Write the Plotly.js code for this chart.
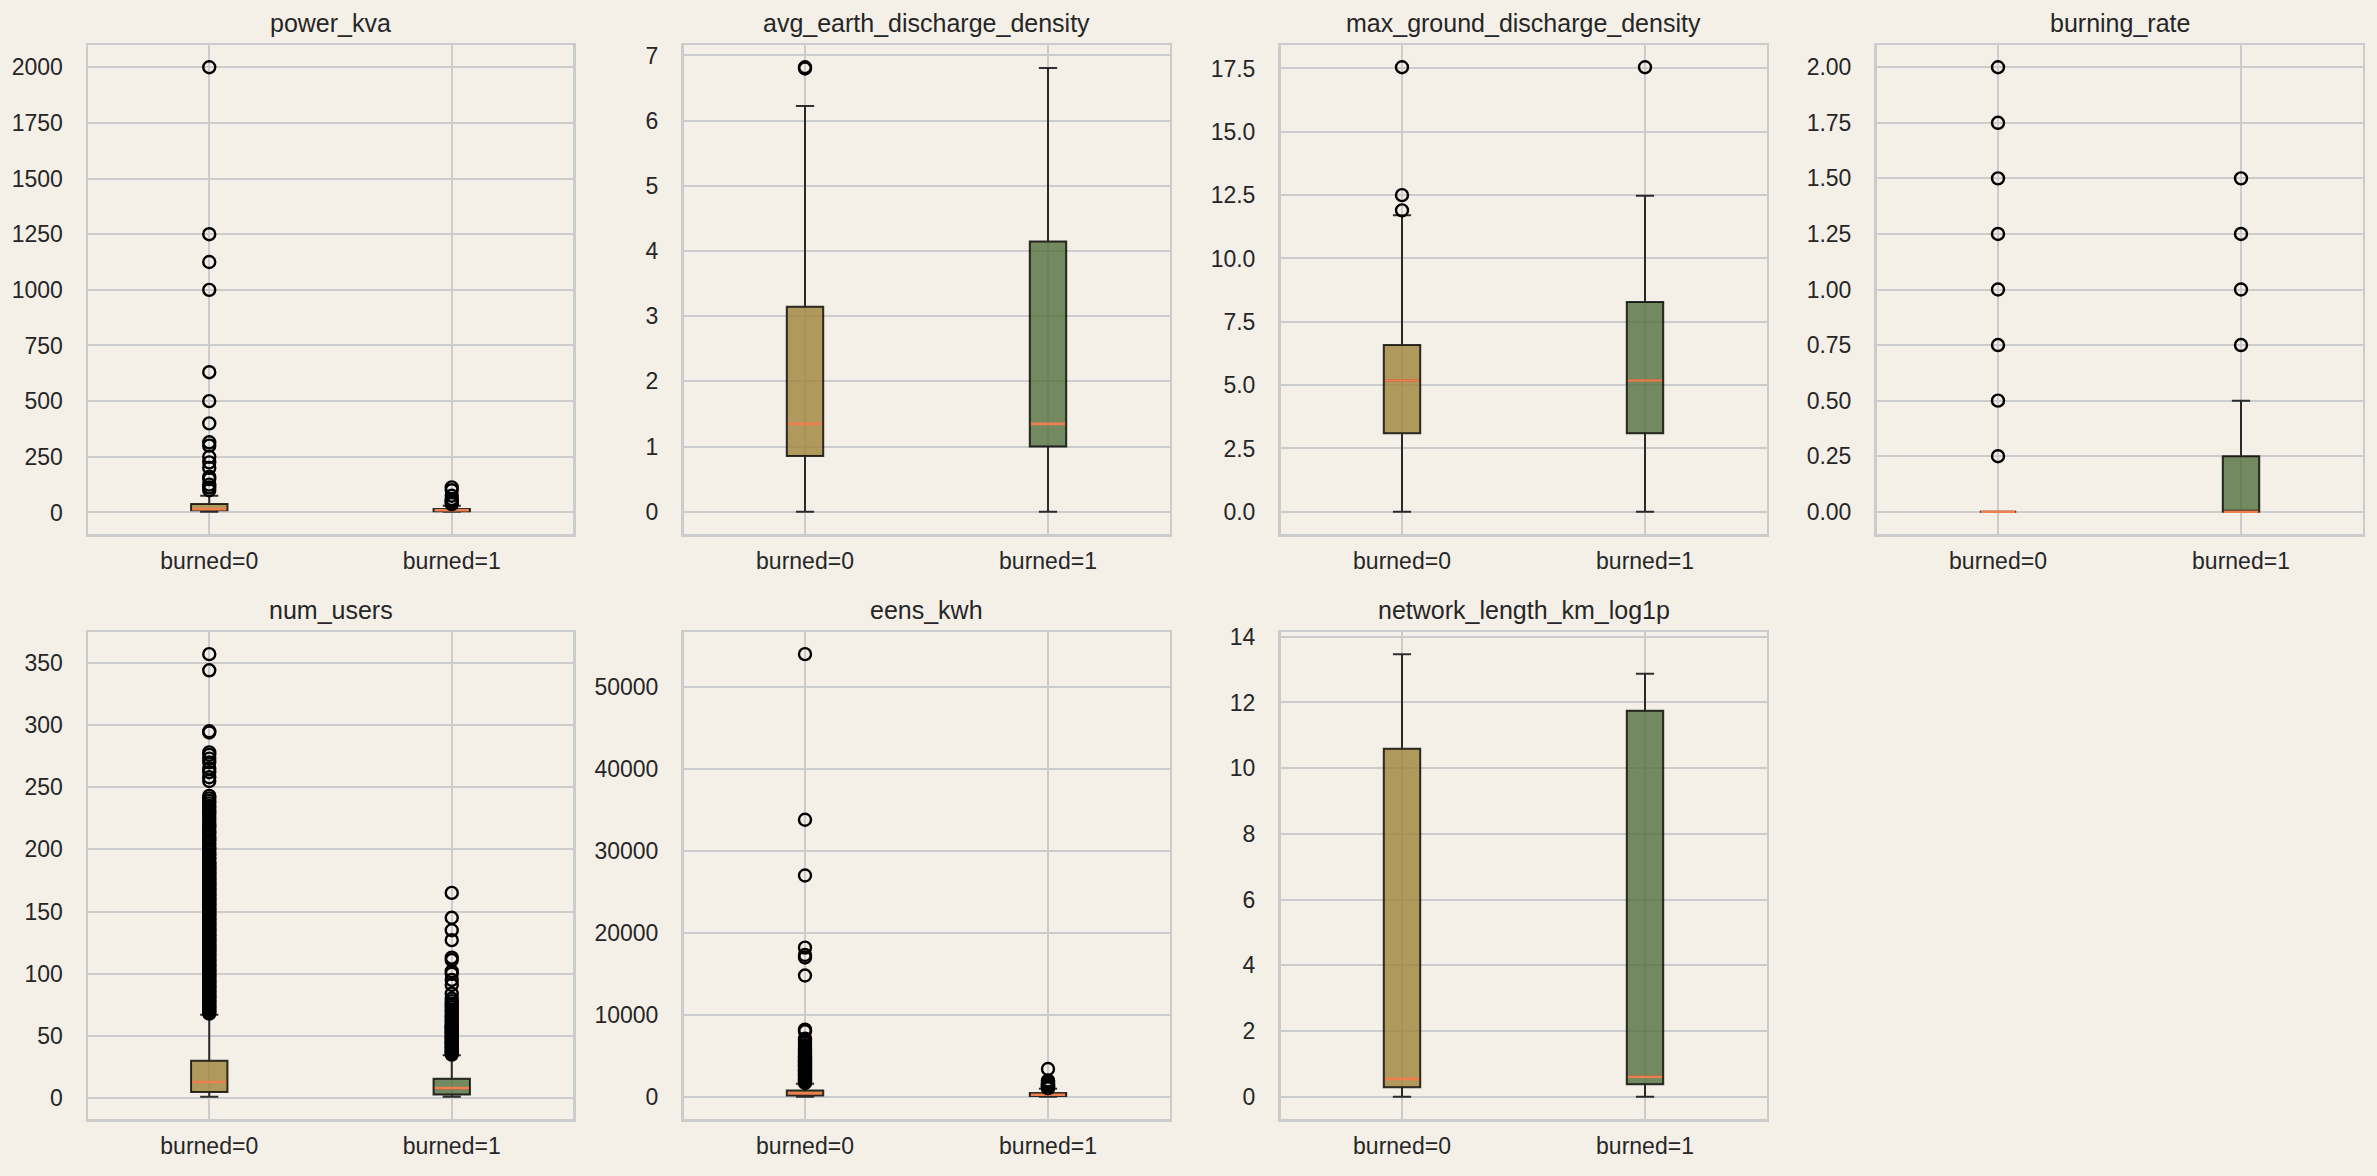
<!DOCTYPE html>
<html>
<head>
<meta charset="utf-8">
<script src="https://cdn.plot.ly/plotly-3.0.1.min.js"></script>
<style>
html,body{margin:0;padding:0;background:#f4f0e8;}
#chart{width:2377px;height:1176px;}
</style>
</head>
<body>
<div id="chart"></div>
<script>
// ---------------- DATA ----------------
const groups = ['burned=0', 'burned=1'];
const metrics = ['power_kva', 'avg_earth_discharge_density', 'max_ground_discharge_density',
                 'burning_rate', 'num_users', 'eens_kwh', 'network_length_km_log1p'];

// box statistics (one value per metric), burned=0
const lowerFence0 = [3, 0, 0, 0, 1, 0, 0];
const q1_0        = [10, 0.856, 3.098, 0, 5, 180, 0.296];
const median0     = [15, 1.348, 5.184, 0, 13, 420, 0.546];
const q3_0        = [37.5, 3.147, 6.584, 0, 30, 770, 10.59];
const upperFence0 = [75, 6.225, 11.71, 0, 67, 1600, 13.47];

// box statistics (one value per metric), burned=1
const lowerFence1 = [3, 0, 0, 0, 1, 0, 0];
const q1_1        = [5, 1.001, 3.098, 0, 3, 100, 0.387];
const median1     = [10, 1.348, 5.184, 0, 8, 250, 0.614];
const q3_1        = [15, 4.148, 8.28, 0.25, 15.6, 470, 11.75];
const upperFence1 = [30, 6.81, 12.48, 0.5, 34.5, 1000, 12.87];

// outliers (fliers)
const powerKvaOut0 = [100, 112.5, 125, 150, 160, 200, 225, 250, 300, 315, 400, 500, 630, 1000, 1125, 1250, 2000];
const powerKvaOut1 = [37.5, 45, 50, 60, 75, 100, 112.5];
const avgEarthOut0 = [6.8, 6.82];
const avgEarthOut1 = [];
const maxGroundOut0 = [11.9, 12.5, 17.55];
const maxGroundOut1 = [17.55];
const burningRateOut0 = [0.25, 0.5, 0.75, 1.0, 1.25, 1.5, 1.75, 2.0];
const burningRateOut1 = [0.75, 1.0, 1.25, 1.5];
const numUsersOut0 = [68, 69, 70, 71, 72, 73, 74, 75, 76, 77, 78, 79, 80, 81, 82, 83, 84, 85, 86, 87, 88, 89,
  90, 91, 92, 93, 94, 95, 96, 97, 98, 99, 100, 101, 102, 103, 104, 105, 106, 107, 108, 109, 110, 111, 112,
  113, 114, 115, 116, 117, 118, 119, 120, 121, 122, 123, 124, 125, 126, 127, 128, 129, 130, 131, 132, 133,
  134, 135, 136, 137, 138, 139, 140, 141, 142, 143, 144, 145, 146, 147, 148, 149, 150, 151, 152, 153, 154,
  155, 156, 157, 158, 159, 160, 161, 162, 163, 164, 165, 166, 167, 168, 169, 170, 171, 172, 173, 174, 175,
  176, 177, 178, 179, 180, 181, 182, 183, 184, 185, 186, 187, 188, 189, 190, 192, 193, 195, 196, 198, 200,
  201, 203, 205, 207, 208, 210, 212, 214, 215, 217, 219, 220, 222, 224, 226, 228, 230, 231, 233, 235, 237,
  239, 241, 243, 255, 258, 262, 265, 270, 273, 276, 278, 294, 295, 344, 357];
const numUsersOut1 = [35, 36, 37, 38, 39, 40, 41, 42, 43, 44, 45, 46, 47, 48, 49, 50, 51, 52, 53, 54, 55, 56,
  57, 58, 59, 60, 62, 63, 65, 66, 68, 70, 71, 73, 75, 76, 78, 80, 84, 91, 95, 100, 102, 111, 113, 127, 135,
  145, 165];
const eensOut0 = [1700, 1800, 1900, 2000, 2100, 2200, 2300, 2400, 2500, 2600, 2700, 2800, 2900, 3000, 3100,
  3200, 3300, 3400, 3500, 3600, 3700, 3800, 3900, 4000, 4100, 4200, 4300, 4400, 4500, 4600, 4700, 4800, 4900,
  5000, 5150, 5300, 5450, 5600, 5750, 5900, 6100, 6300, 6600, 6900, 7100, 8000, 8200, 14800, 17000, 17300,
  18200, 27000, 33800, 54000];
const eensOut1 = [1050, 1100, 1150, 1200, 1250, 1300, 1350, 1400, 1450, 1500, 1550, 1600, 1700, 1800, 1900,
  2000, 3400];
const networkOut0 = [];
const networkOut1 = [];

const outliers0 = [powerKvaOut0, avgEarthOut0, maxGroundOut0, burningRateOut0, numUsersOut0, eensOut0, networkOut0];
const outliers1 = [powerKvaOut1, avgEarthOut1, maxGroundOut1, burningRateOut1, numUsersOut1, eensOut1, networkOut1];

// y tick settings per panel
const yDtick = [250, 1, 2.5, 0.25, 50, 10000, 2];
const yTickFormat = ['d', 'd', '.1f', '.2f', 'd', 'd', 'd'];

// ---------------- STYLE / LAYOUT ----------------
const W = 2377, H = 1176;
const BG = '#f4f0e8';
const TEXT = '#262626';
const GRID = '#cccccc';
const FILL = ['rgba(159,131,57,0.8)', 'rgba(83,111,60,0.8)'];
const EDGE = 'rgba(0,0,0,0.8)';
const MEDIAN = '#ee8050';
const BOXW = 0.15;
const colX = [[88, 573], [683.5, 1169.5], [1280.5, 1766.5], [1876.5, 2362.5]];
const rowY = [[45, 534], [632, 1119]];
const FONT = 'Liberation Sans, Arial, Helvetica, sans-serif';

const traces = [];
const layout = {
  width: W, height: H,
  margin: {l: 0, r: 0, t: 0, b: 0},
  paper_bgcolor: BG, plot_bgcolor: BG,
  showlegend: false,
  font: {family: FONT, color: TEXT},
  annotations: []
};

const stats = [
  [lowerFence0, q1_0, median0, q3_0, upperFence0],
  [lowerFence1, q1_1, median1, q3_1, upperFence1]
];
const outs = [outliers0, outliers1];

metrics.forEach((name, i) => {
  const n = i + 1;
  const xa = n === 1 ? 'x' : 'x' + n;
  const ya = n === 1 ? 'y' : 'y' + n;
  const row = i < 4 ? 0 : 1;
  const col = i % 4;
  const [x0, x1] = colX[col];
  const [y0, y1] = rowY[row];

  // boxes
  [0, 1].forEach(g => {
    const s = stats[g];
    traces.push({
      type: 'box', xaxis: xa, yaxis: ya,
      x: [g + 1],
      lowerfence: [s[0][i]], q1: [s[1][i]], median: [s[2][i]], q3: [s[3][i]], upperfence: [s[4][i]],
      width: BOXW, whiskerwidth: 0.5, boxpoints: false,
      fillcolor: FILL[g], line: {color: EDGE, width: 2},
      hoverinfo: 'skip'
    });
  });

  // medians (orange); plotly's line-ew symbol is 1.4*size long
  const pxPerUnit = (x1 - x0) / 2;
  traces.push({
    type: 'scatter', mode: 'markers', xaxis: xa, yaxis: ya,
    x: [1, 2], y: [median0[i], median1[i]],
    marker: {symbol: 'line-ew', size: (BOXW * pxPerUnit - 2) / 1.4, color: MEDIAN, line: {color: MEDIAN, width: 2.6}},
    hoverinfo: 'skip', cliponaxis: false
  });

  // outliers
  [0, 1].forEach(g => {
    const o = outs[g][i];
    if (!o.length) return;
    traces.push({
      type: 'scatter', mode: 'markers', xaxis: xa, yaxis: ya,
      x: o.map(() => g + 1), y: o,
      marker: {symbol: 'circle-open', size: 12, color: '#000000', line: {width: 2.4, color: '#000000'}},
      hoverinfo: 'skip'
    });
  });

  // y range: data extent + 5% margins (like matplotlib autoscale)
  const all = [lowerFence0[i], lowerFence1[i], upperFence0[i], upperFence1[i],
               q1_0[i], q3_0[i], q1_1[i], q3_1[i]].concat(outliers0[i], outliers1[i]);
  const lo = Math.min(...all), hi = Math.max(...all);
  const pad = 0.05 * (hi - lo);

  layout['xaxis' + (n === 1 ? '' : n)] = {
    domain: [x0 / W, x1 / W], anchor: ya,
    range: [0.5, 2.5], tickmode: 'array', tickvals: [1, 2], ticktext: groups,
    showgrid: true, gridcolor: GRID, gridwidth: 2, zeroline: false,
    showline: true, mirror: true, linecolor: GRID, linewidth: 2.5,
    ticks: '', tickfont: {size: 23, color: TEXT, family: FONT},
    ticklabelstandoff: 5, fixedrange: true
  };
  layout['yaxis' + (n === 1 ? '' : n)] = {
    domain: [1 - y1 / H, 1 - y0 / H], anchor: xa,
    range: [lo - pad, hi + pad], tick0: 0, dtick: yDtick[i], tickformat: yTickFormat[i],
    showgrid: true, gridcolor: GRID, gridwidth: 2, zeroline: false,
    showline: true, mirror: true, linecolor: GRID, linewidth: 2.5,
    ticks: '', tickfont: {size: 23, color: TEXT, family: FONT},
    ticklabelstandoff: 18, fixedrange: true
  };
  layout.annotations.push({
    text: name, xref: 'paper', yref: 'paper',
    x: (x0 + x1) / 2 / W, y: 1 - y0 / H,
    xanchor: 'center', yanchor: 'bottom', yshift: 6, showarrow: false,
    font: {size: 25, color: TEXT, family: FONT}
  });
});

Plotly.newPlot('chart', traces, layout, {staticPlot: true, displayModeBar: false});
</script>
</body>
</html>
